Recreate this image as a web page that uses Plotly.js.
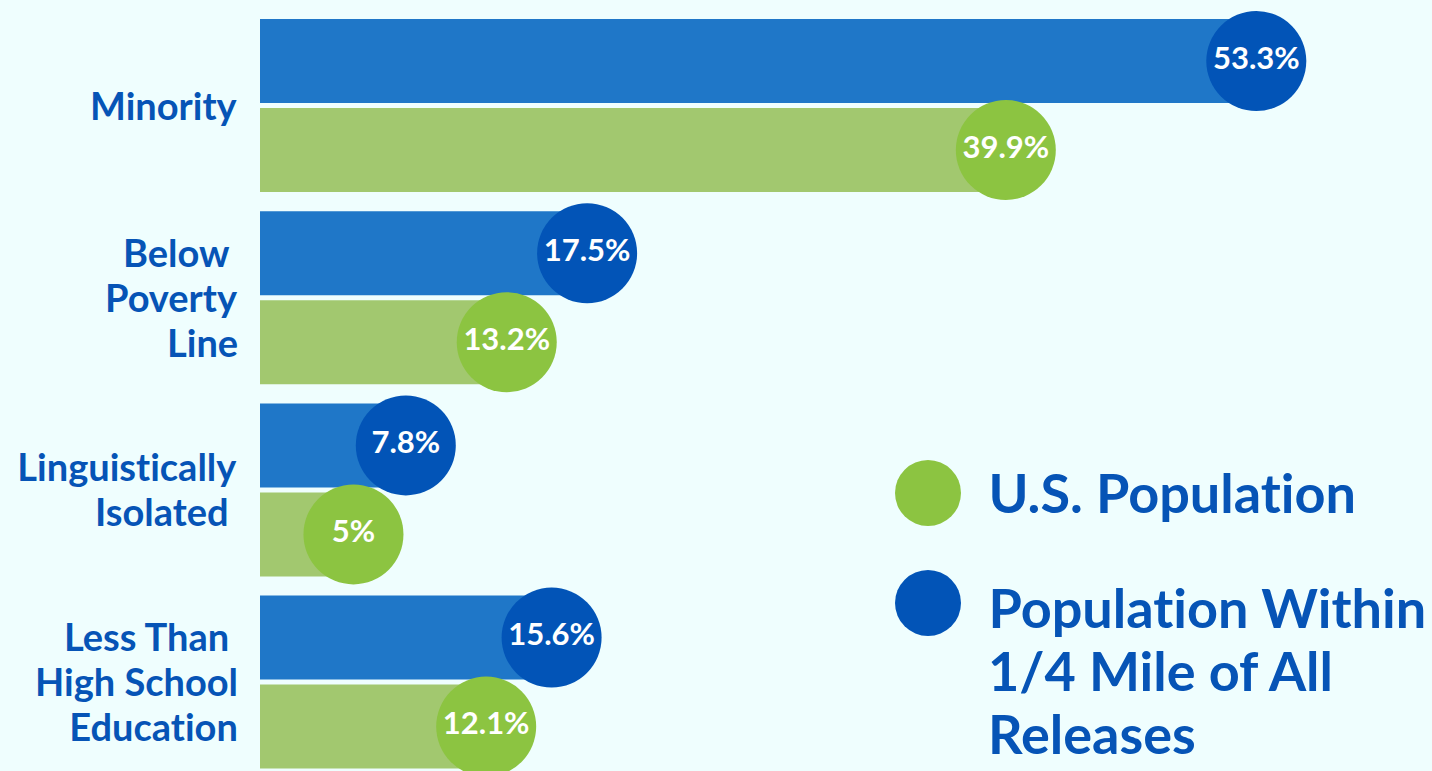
<!DOCTYPE html>
<html>
<head>
<meta charset="utf-8">
<script src="https://cdn.plot.ly/plotly-3.0.1.min.js"></script>
<style>
  html, body { margin: 0; padding: 0; background: #effefe; }
  #chart { width: 1432px; height: 771px; }
  #chart text { font-variant-ligatures: none; font-feature-settings: "liga" 0, "clig" 0; }
</style>
</head>
<body>
<div id="chart"></div>
<script>
// ---- data ----
const categories = [
  ['Minority'],
  ['Below\u00a0', 'Poverty', 'Line'],
  ['Linguistically', 'Isolated\u00a0'],
  ['Less Than\u00a0', 'High School', 'Education']
];
const nearReleases = [53.3, 17.5, 7.8, 15.6];   // Population Within 1/4 Mile of All Releases
const usPopulation = [39.9, 13.2, 5, 12.1];     // U.S. Population
const seriesNames = ['U.S. Population', ['Population Within', '1/4 Mile of All', 'Releases']];

// ---- styles ----
const BLUE_BAR = '#1f77c8', GREEN_BAR = '#a2c86f';
const BLUE_DOT = '#0254b7', GREEN_DOT = '#8cc441';
const TEXT = '#0654b6';
const FONT = 'Lato, "Open Sans", sans-serif';

const idx = categories.map((_, i) => i);
const BAR_W = 0.437, GAP = 0.013;
const blueCenter = idx.map(i => i - GAP - BAR_W / 2);
const greenCenter = idx.map(i => i + GAP + BAR_W / 2);
const fmt = v => v + '%';

const traces = [
  { type: 'bar', orientation: 'h', x: nearReleases, y: idx, base: 0,
    width: BAR_W, offset: -(GAP + BAR_W), marker: { color: BLUE_BAR },
    hoverinfo: 'skip', showlegend: false },
  { type: 'bar', orientation: 'h', x: usPopulation, y: idx, base: 0,
    width: BAR_W, offset: GAP, marker: { color: GREEN_BAR },
    hoverinfo: 'skip', showlegend: false },
  { type: 'scatter', mode: 'markers+text', x: nearReleases, y: blueCenter,
    text: nearReleases.map(fmt), textposition: 'middle center',
    textfont: { family: FONT, size: 31, color: '#ffffff', weight: 700 },
    marker: { size: 100, color: BLUE_DOT }, cliponaxis: false,
    hoverinfo: 'skip', showlegend: false },
  { type: 'scatter', mode: 'markers+text', x: usPopulation, y: greenCenter,
    text: usPopulation.map(fmt), textposition: 'middle center',
    textfont: { family: FONT, size: 31, color: '#ffffff', weight: 700 },
    marker: { size: 100, color: GREEN_DOT }, cliponaxis: false,
    hoverinfo: 'skip', showlegend: false }
];

const annotations = [];
const LABEL_LH = 45;
categories.forEach((lines, i) => {
  lines.forEach((ln, k) => {
    annotations.push({
      xref: 'paper', yref: 'y', x: 0, y: i, xanchor: 'right', yanchor: 'middle',
      xshift: -20, yshift: ((lines.length - 1) / 2 - k) * LABEL_LH + 1,
      text: '<b>' + ln + '</b>', showarrow: false,
      font: { family: FONT, size: 38, color: TEXT }
    });
  });
});

// legend (custom, large)
const W = 1172, H = 771, L = 260;
const px = x => (x - L) / W;
const py = y => 1 - y / H;
const shapes = [
  { type: 'circle', xref: 'paper', yref: 'paper', xsizemode: 'pixel', ysizemode: 'pixel',
    xanchor: px(928), yanchor: py(493), x0: -33, x1: 33, y0: -33, y1: 33,
    fillcolor: GREEN_DOT, line: { width: 0 } },
  { type: 'circle', xref: 'paper', yref: 'paper', xsizemode: 'pixel', ysizemode: 'pixel',
    xanchor: px(928), yanchor: py(603), x0: -33, x1: 33, y0: -33, y1: 33,
    fillcolor: BLUE_DOT, line: { width: 0 } }
];
const legendLines = [[seriesNames[0], 493]].concat(seriesNames[1].map((t, k) => [t, 607 + k * 63]));
legendLines.forEach(([t, y]) => {
  annotations.push({
    xref: 'paper', yref: 'paper', x: px(986), y: py(y), xanchor: 'left', yanchor: 'middle',
    text: '<b>' + t + '</b>', showarrow: false,
    font: { family: FONT, size: 54, color: TEXT }
  });
});

const layout = {
  width: 1432, height: 771,
  margin: { l: L, r: 0, t: 0, b: 0, pad: 0 },
  paper_bgcolor: '#effefe', plot_bgcolor: '#effefe',
  barmode: 'overlay',
  xaxis: { range: [0, 62.7], visible: false, fixedrange: true },
  yaxis: { range: [3.4625, -0.549], visible: false, fixedrange: true },
  showlegend: false,
  shapes: shapes,
  annotations: annotations
};

Plotly.newPlot('chart', traces, layout, { displayModeBar: false, staticPlot: true });
</script>
</body>
</html>
